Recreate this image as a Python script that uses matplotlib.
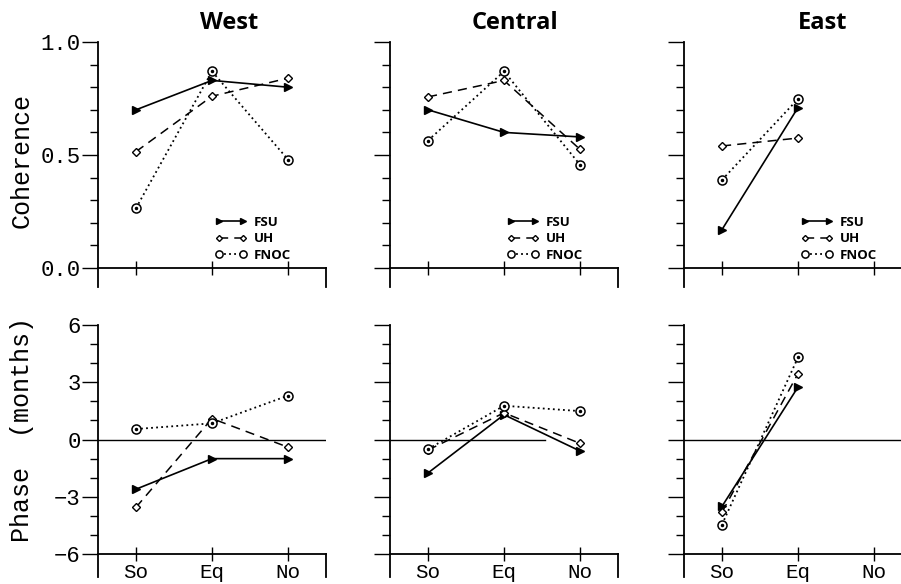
import numpy as np
import matplotlib
matplotlib.use('Agg')
import matplotlib.pyplot as plt

# data
regions = ['West', 'Central', 'East']
sites = ['So', 'Eq', 'No']
models = ['FSU', 'UH', 'FNOC']

fsu_coh = [[0.70, 0.83, 0.80], [0.70, 0.60, 0.58], [0.17, 0.71, np.nan]]
uh_coh = [[0.515, 0.76, 0.84], [0.757, 0.83, 0.525], [0.54, 0.575, np.nan]]
fnoc_coh = [[0.265, 0.87, 0.48], [0.564, 0.87, 0.457], [0.39, 0.748, np.nan]]

fsu_phase = [[-2.6, -1.0, -1.0], [-1.75, 1.3, -0.6], [-3.5, 2.75, np.nan]]
uh_phase = [[-3.55, 1.1, -0.4], [-0.55, 1.4, -0.2], [-3.8, 3.45, np.nan]]
fnoc_phase = [[0.55, 0.85, 2.3], [-0.5, 1.77, 1.49], [-4.45, 4.3, np.nan]]

coh = [fsu_coh, uh_coh, fnoc_coh]
phase = [fsu_phase, uh_phase, fnoc_phase]

mono = 'Liberation Mono'
sans = 'Open Sans'

styles = [
    dict(ls='-', lw=1.2, marker='>', ms=5.5, color='k', mfc='k'),
    dict(ls=(0, (6, 4)), lw=1.1, marker='D', ms=3.8, color='k', mfc='white', mew=1.0),
    dict(ls=(0, (1, 1.8)), lw=1.3, marker='o', ms=6.5, color='k', mfc='white', mew=1.1),
]

fig = plt.figure(figsize=(9.01, 5.84), dpi=100)

lefts = [98 / 901, 390 / 901, 684 / 901]
width = 228 / 901
title_x = [0.575, 0.548, 0.61]
zero_xmax = [1.0, 0.68, 1.0]


def setup(ax, ylo, ytop, base, major, minor, show_ylabels, show_xlabels):
    ax.set_xlim(-0.5, 2.5)
    ax.set_ylim(ylo, ytop)
    ax.spines['top'].set_visible(False)
    ax.spines['bottom'].set_position(('data', base))
    ax.spines['right'].set_bounds(ylo, base)
    for s in ax.spines.values():
        s.set_linewidth(1.3)
    ax.set_xticks(range(len(sites)))
    ax.set_xticklabels(sites if show_xlabels else [])
    ax.tick_params(axis='x', direction='inout', length=9.5, width=1.0, pad=2,
                   labelsize=15)
    ax.set_yticks(major)
    ax.set_yticks(minor, minor=True)
    ax.tick_params(axis='y', which='major', direction='out', length=11.5,
                   width=1.0, pad=1, labelsize=16, labelleft=show_ylabels)
    ax.tick_params(axis='y', which='minor', direction='out', length=6, width=1.0)
    ax.tick_params(axis='y', which='both', right=False)
    for lab in ax.get_xticklabels() + ax.get_yticklabels():
        lab.set_family(mono)


for i, name in enumerate(regions):
    # coherence row
    ax = fig.add_axes([lefts[i], 1 - 287 / 584, width, 245 / 584])
    for m in range(3):
        ax.plot(range(3), coh[m][i], label=models[m], clip_on=False, **styles[m])
    ax.plot(range(3), coh[2][i], ls='none', marker='o', ms=1.5, color='k')
    setup(ax, -0.084, 1.0, 0.0, [0, 0.5, 1.0], np.arange(0, 1.01, 0.1),
          i == 0, False)
    if i == 0:
        ax.set_yticklabels(['0.0', '0.5', '1.0'])
    ax.set_title(name, x=title_x[i], y=1.02, fontsize=17, fontweight='bold',
                 family=sans)
    leg = ax.legend(loc='upper left', bbox_to_anchor=(0.515, 0.29), frameon=False,
                    numpoints=2, handlelength=2.4, handletextpad=0.5,
                    labelspacing=0.25, borderpad=0, borderaxespad=0,
                    markerscale=0.8,
                    prop=dict(family=sans, weight='bold', size=9.5))

    # phase row
    ax2 = fig.add_axes([lefts[i], 1 - 577 / 584, width, 252 / 584])
    ax2.axhline(0, xmin=0, xmax=zero_xmax[i], color='k', lw=1.0)
    for m in range(3):
        ax2.plot(range(3), phase[m][i], clip_on=False, **styles[m])
    ax2.plot(range(3), phase[2][i], ls='none', marker='o', ms=1.5, color='k')
    setup(ax2, -7.2, 6.0, -6.0, [-6, -3, 0, 3, 6], np.arange(-6, 7, 1),
          i == 0, True)

fig.text(0.024, 1 - 160 / 584, 'Coherence', rotation=90, ha='center',
         va='center', fontsize=18, family=mono)
fig.text(0.024, 1 - 430 / 584, 'Phase  (months)', rotation=90, ha='center',
         va='center', fontsize=18, family=mono)

fig.savefig('out.png', dpi=100)
